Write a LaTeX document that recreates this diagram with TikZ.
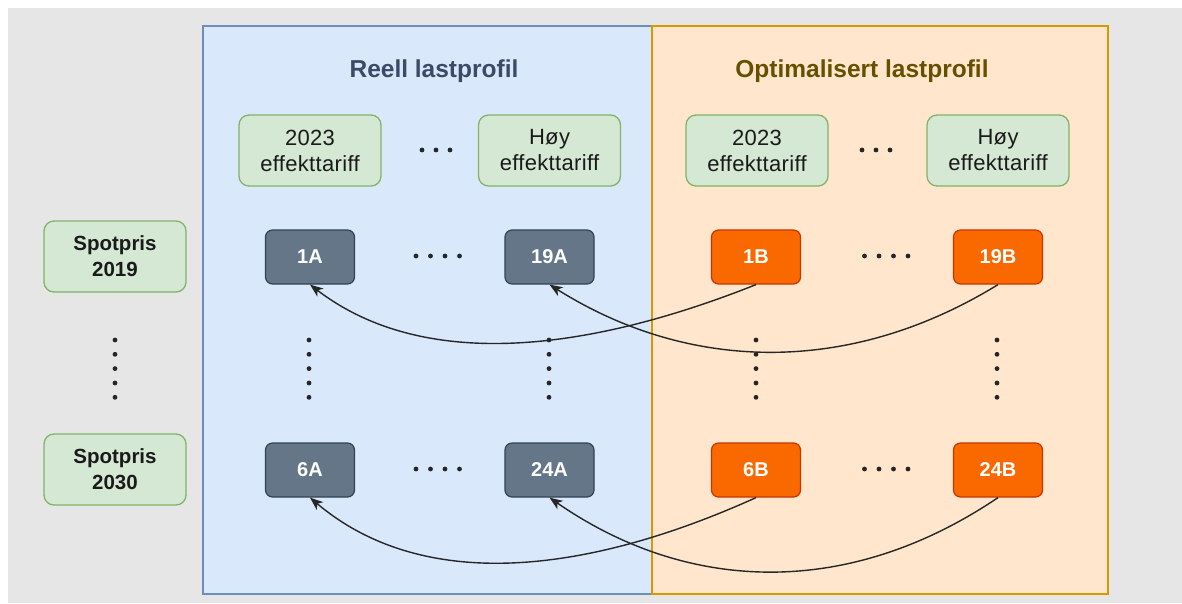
\documentclass[tikz,border=0pt]{standalone}
\usepackage{fontspec}
\setmainfont{Liberation Sans}
\usetikzlibrary{arrows.meta}
\definecolor{bggray}{HTML}{E6E6E6}
\definecolor{bluefill}{HTML}{DAE8FC}
\definecolor{bluedraw}{HTML}{6C8EBF}
\definecolor{orfill}{HTML}{FFE6CC}
\definecolor{ordraw}{HTML}{D79B00}
\definecolor{grfill}{HTML}{D5E8D4}
\definecolor{grdraw}{HTML}{82B366}
\definecolor{slfill}{HTML}{647687}
\definecolor{sldraw}{HTML}{314354}
\definecolor{onfill}{HTML}{FA6800}
\definecolor{ondraw}{HTML}{C73500}
\definecolor{tblue}{HTML}{3B4A66}
\definecolor{torange}{HTML}{665000}
\definecolor{txt}{HTML}{1A1A1A}
\tikzset{
  container/.style={line width=1.3pt, minimum width=#1, minimum height=568, inner sep=0pt, outer sep=0pt},
  greenbox/.style={draw=grdraw, fill=grfill, line width=1.3pt, rounded corners=10pt,
    minimum width=142, minimum height=71, inner sep=0pt, align=center, text=txt,
    font=\fontsize{22}{26}\selectfont\addfontfeature{LetterSpace=1.5}},
  spotbox/.style={draw=grdraw, fill=grfill, line width=1.3pt, rounded corners=10pt,
    minimum width=142, minimum height=71, inner sep=0pt, align=center, text=txt,
    font=\fontsize{20.5}{26}\selectfont\bfseries},
  slatebox/.style={draw=sldraw, fill=slfill, line width=1.2pt, rounded corners=7pt,
    minimum width=89, minimum height=54, inner sep=0pt, text=white,
    font=\fontsize{20}{24}\selectfont\bfseries},
  orangebox/.style={slatebox, draw=ondraw, fill=onfill},
  titletext/.style={font=\fontsize{24.5}{28}\selectfont\bfseries, inner sep=0pt},
  link/.style={line width=1.4pt, draw=black!85, -{Stealth[length=13pt,width=10pt,inset=3.5pt]}},
  dotfill/.style={fill=black!85}
}
\begin{document}
\begin{tikzpicture}[x=1pt, y=-1pt]
\useasboundingbox (0,0) rectangle (1182,603);
\fill[white] (0,0) rectangle (1182,603);
\fill[bggray] (8,8) rectangle (1182,603);

% containers
\node[container=449, fill=bluefill, draw=bluedraw] (reell) at (427.5,310) {};
\node[container=456, fill=orfill, draw=ordraw] (optim) at (880,310) {};
\draw[bluedraw, line width=1.3pt] (652,26) -- (203,26) -- (203,594) -- (652,594);
\draw[ordraw, line width=1.3pt] (652,26) rectangle (1108,594);

% titles
\node[titletext, text=tblue] (treell) at (434,71) {Reell lastprofil};
\node[titletext, text=torange] (toptim) at (862,71) {Optimalisert lastprofil};

% tariff boxes
\node[greenbox] (ta1) at (310,150.5) {2023\\effekttariff};
\node[greenbox] (ta2) at (549.5,150.5) {Høy\\effekttariff};
\node[greenbox] (tb1) at (757,150.5) {2023\\effekttariff};
\node[greenbox] (tb2) at (998,150.5) {Høy\\effekttariff};

% spot price boxes
\node[spotbox] (s1) at (115,256.5) {Spotpris\\2019};
\node[spotbox] (s2) at (115,469.5) {Spotpris\\2030};

% scenario boxes
\node[slatebox] (a1) at (310,257) {1A};
\node[slatebox] (a19) at (549.5,257) {19A};
\node[orangebox] (b1) at (756,257) {1B};
\node[orangebox] (b19) at (998,257) {19B};
\node[slatebox] (a6) at (310,470) {6A};
\node[slatebox] (a24) at (549.5,470) {24A};
\node[orangebox] (b6) at (756,470) {6B};
\node[orangebox] (b24) at (998,470) {24B};

% horizontal dots
\foreach \x in {422,436,450} {
  \fill[dotfill] (\x,150) circle (2.4);
  \fill[dotfill] (\x+440,150) circle (2.4);
}
\foreach \x in {416,430.5,445,459.5} {
  \foreach \y in {256,469} {
    \fill[dotfill] (\x,\y) circle (2.4);
    \fill[dotfill] (\x+448.5,\y) circle (2.4);
  }
}
% vertical dots
\foreach \x in {115,309,549,756,997} {
  \foreach \y in {340,354.3,368.6,383,397.3} {
    \fill[dotfill] (\x,\y) circle (2.4);
  }
}

% connectors
\draw[link] (b1.south) .. controls +(-166,66) and +(115,88) .. (a1.south);
\draw[link] (b19.south) .. controls +(-148,91) and +(140,88) .. (a19.south);
\draw[link] (b6.south) .. controls +(-166,75) and +(115,97) .. (a6.south);
\draw[link] (b24.south) .. controls +(-148,100) and +(140,97) .. (a24.south);
\end{tikzpicture}
\end{document}
